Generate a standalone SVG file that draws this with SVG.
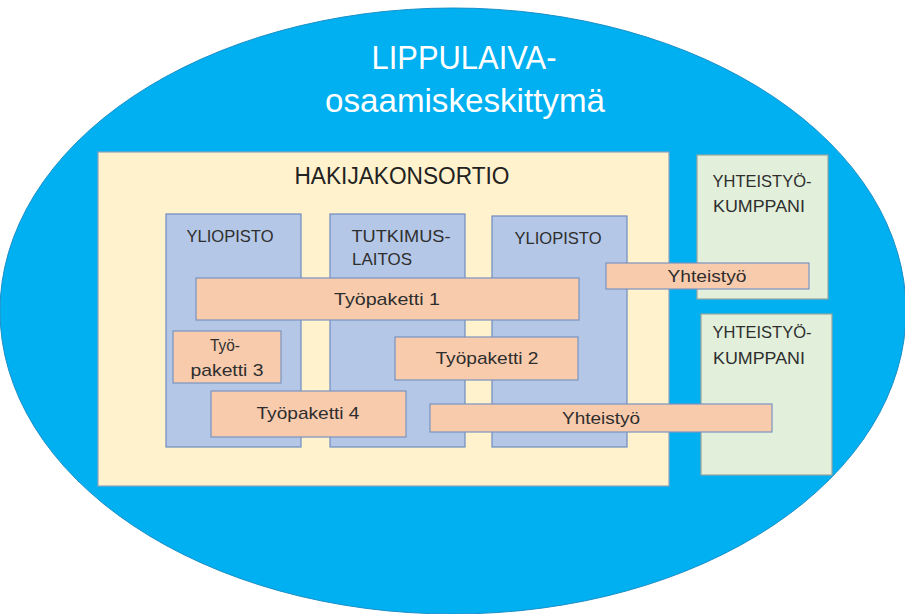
<svg xmlns="http://www.w3.org/2000/svg" width="905" height="614" viewBox="0 0 905 614">
<style>
text{font-family:"Liberation Sans",Arial,sans-serif;text-anchor:middle}
.lbl{font-size:17px;fill:#2e2e2e}
.title{font-size:33px;fill:#ffffff}
.big{font-size:23px;fill:#222222}
.cons{fill:#FFF2CC;stroke:#8FA3BE;stroke-width:1.2}
.org{fill:#B4C7E7;stroke:#6F8CC0;stroke-width:1.2}
.wp{fill:#F8CBAD;stroke:#7A93C0;stroke-width:1.2}
.partner{fill:#E2EFDA;stroke:#98A6A0;stroke-width:1.2}
</style>
<rect width="905" height="614" fill="#ffffff"/>
<g id="lippulaiva">
<ellipse cx="453" cy="311" rx="453" ry="303" fill="#00B0F0" stroke="#1A8FC8" stroke-width="1"/>
<text class="title" x="464" y="69" textLength="185" lengthAdjust="spacingAndGlyphs">LIPPULAIVA-</text>
<text class="title" x="465" y="112" textLength="280" lengthAdjust="spacingAndGlyphs">osaamiskeskittymä</text>
</g>
<g id="hakijakonsortio">
<rect class="cons" x="98" y="152" width="571" height="334"/>
<text class="big" x="402" y="184" textLength="215" lengthAdjust="spacingAndGlyphs">HAKIJAKONSORTIO</text>
</g>
<g id="yliopisto1">
<rect class="org" x="166" y="214" width="135" height="233"/>
<text class="lbl" x="230" y="242" textLength="87" lengthAdjust="spacingAndGlyphs">YLIOPISTO</text>
</g>
<g id="tutkimuslaitos">
<rect class="org" x="330" y="214" width="135" height="233"/>
<text class="lbl" x="401" y="242" textLength="99" lengthAdjust="spacingAndGlyphs">TUTKIMUS-</text>
<text class="lbl" x="382" y="265" textLength="60" lengthAdjust="spacingAndGlyphs">LAITOS</text>
</g>
<g id="yliopisto2">
<rect class="org" x="492" y="216" width="135" height="231"/>
<text class="lbl" x="558" y="244" textLength="87" lengthAdjust="spacingAndGlyphs">YLIOPISTO</text>
</g>
<g id="yhteistyokumppani1">
<rect class="partner" x="697" y="155" width="131" height="144"/>
<text class="lbl" x="762" y="187" textLength="99" lengthAdjust="spacingAndGlyphs">YHTEISTYÖ-</text>
<text class="lbl" x="759" y="212" textLength="92" lengthAdjust="spacingAndGlyphs">KUMPPANI</text>
</g>
<g id="yhteistyokumppani2">
<rect class="partner" x="701" y="314" width="131" height="161"/>
<text class="lbl" x="762" y="338" textLength="99" lengthAdjust="spacingAndGlyphs">YHTEISTYÖ-</text>
<text class="lbl" x="759" y="364" textLength="92" lengthAdjust="spacingAndGlyphs">KUMPPANI</text>
</g>
<g id="tyopaketti1">
<rect class="wp" x="196" y="278" width="383" height="42"/>
<text class="lbl" x="387" y="305" textLength="106" lengthAdjust="spacingAndGlyphs">Työpaketti 1</text>
</g>
<g id="yhteistyo1">
<rect class="wp" x="606" y="263" width="203" height="26"/>
<text class="lbl" x="707" y="282" textLength="79" lengthAdjust="spacingAndGlyphs">Yhteistyö</text>
</g>
<g id="tyopaketti3">
<rect class="wp" x="173" y="331" width="108" height="52"/>
<text class="lbl" x="225" y="351" textLength="30" lengthAdjust="spacingAndGlyphs">Työ-</text>
<text class="lbl" x="227" y="376" textLength="73" lengthAdjust="spacingAndGlyphs">paketti 3</text>
</g>
<g id="tyopaketti2">
<rect class="wp" x="395" y="337" width="183" height="43"/>
<text class="lbl" x="487" y="364" textLength="103" lengthAdjust="spacingAndGlyphs">Työpaketti 2</text>
</g>
<g id="tyopaketti4">
<rect class="wp" x="211" y="391" width="195" height="46"/>
<text class="lbl" x="308" y="419" textLength="103" lengthAdjust="spacingAndGlyphs">Työpaketti 4</text>
</g>
<g id="yhteistyo2">
<rect class="wp" x="430" y="404" width="342" height="28"/>
<text class="lbl" x="601" y="424" textLength="78" lengthAdjust="spacingAndGlyphs">Yhteistyö</text>
</g>
<g id="connectors"></g>
</svg>
